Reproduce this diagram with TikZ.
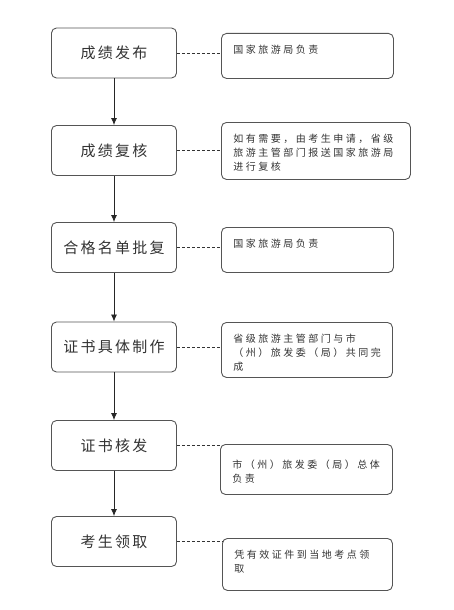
\documentclass[tikz,border=0pt]{standalone}
\usepackage{fontspec}
\setmainfont{Noto Sans CJK SC}
\newfontfamily\stepfont[LetterSpace=15]{Noto Sans CJK SC}
\newfontfamily\memofont[LetterSpace=25]{Noto Sans CJK SC}
\usetikzlibrary{arrows.meta}
% text of a note, kept at the top of its box
\newcommand{\memo}[3]{\parbox[c][#1][t]{#2}{\baselineskip=14pt\vspace*{3pt}#3}}
\definecolor{boxline}{HTML}{555555}
\definecolor{inkgray}{HTML}{333333}
\tikzset{
  stepbox/.style={draw=boxline, line width=0.9pt, rounded corners=5pt,
    minimum width=125pt, minimum height=50pt, inner sep=0pt,
    font=\stepfont\fontsize{15}{18}\selectfont, text=inkgray},
  notebox/.style={draw=boxline, line width=0.9pt, rounded corners=5pt,
    anchor=north west, inner xsep=12pt, inner ysep=9pt,
    font=\memofont\fontsize{10}{14}\selectfont, text=inkgray},
  flow/.style={draw=black!85, line width=0.8pt, -{Latex[length=7pt,width=6pt]}},
  link/.style={draw=black!80, line width=0.7pt, dashed, dash pattern=on 3pt off 2pt}
}
\begin{document}
\begin{tikzpicture}[x=1pt,y=-1pt]
  \useasboundingbox (0,0) rectangle (454,610);
  %% STEPS
  \node[stepbox] (fabu)   at (114,53)    {成绩发布};
  \node[stepbox] (fuhe)   at (114,150.5) {成绩复核};
  \node[stepbox] (pifu)   at (114,247.5) {合格名单批复};
  \node[stepbox] (zhizuo) at (114,347)   {证书具体制作};
  \node[stepbox] (hefa)   at (114,445.5) {证书核发};
  \node[stepbox] (lingqu) at (114,541.5) {考生领取};

  %% NOTES
  \node[notebox] (n1) at (221,33)  {\memo{27pt}{148pt}{国家旅游局负责}};
  \node[notebox] (n2) at (221,122) {\memo{39pt}{165pt}{如有需要，由考生申请，省级\\旅游主管部门报送国家旅游局\\进行复核}};
  \node[notebox] (n3) at (221,227) {\memo{27pt}{148pt}{国家旅游局负责}};
  \node[notebox] (n4) at (221,322) {\memo{37pt}{147pt}{省级旅游主管部门与市\\（州）旅发委（局）共同完\\成}};
  \node[notebox] (n5) at (220,444) {\memo{32pt}{148pt}{\vspace*{3pt}市（州）旅发委（局）总体\\负责}};
  \node[notebox] (n6) at (222,538) {\memo{34pt}{146pt}{凭有效证件到当地考点领\\取}};

  % ARROWS
  \draw[flow] (fabu)   -- (fuhe);
  \draw[flow] (fuhe)   -- (pifu);
  \draw[flow] (pifu)   -- (zhizuo);
  \draw[flow] (zhizuo) -- (hefa);
  \draw[flow] (hefa)   -- (lingqu);

  % DASHED LINKS
  \draw[link] (fabu.east)   -- (fabu.east -| n1.west);
  \draw[link] (fuhe.east)   -- (fuhe.east -| n2.west);
  \draw[link] (pifu.east)   -- (pifu.east -| n3.west);
  \draw[link] (zhizuo.east) -- (zhizuo.east -| n4.west);
  \draw[link] (hefa.east)   -- (hefa.east -| n5.west);
  \draw[link] (lingqu.east) -- (lingqu.east -| n6.west);
\end{tikzpicture}
\end{document}
